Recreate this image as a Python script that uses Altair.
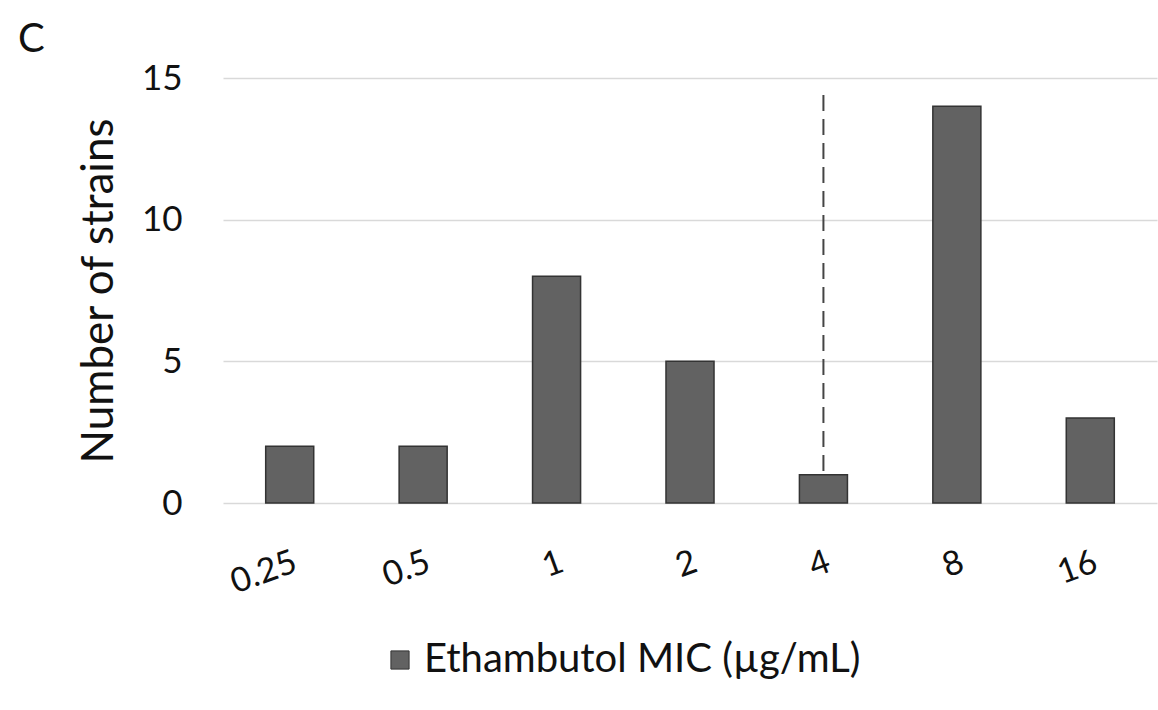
import altair as alt
import pandas as pd

# ---- data ----
mic_labels = ["0.25", "0.5", "1", "2", "4", "8", "16"]
strain_counts = [2, 2, 8, 5, 1, 14, 3]
series_name = "Ethambutol MIC (µg/mL)"
y_ticks = [0, 5, 10, 15]

breakpoint_mic = ["4"]
breakpoint_top = [14.4]
breakpoint_bottom = [1]

panel_label = ["C"]

FONT = "Lato"

bars_df = pd.DataFrame({"mic": mic_labels, "count": strain_counts,
                        "series": [series_name] * len(mic_labels)})
rule_df = pd.DataFrame({"mic": breakpoint_mic, "top": breakpoint_top,
                        "bottom": breakpoint_bottom})
label_df = pd.DataFrame({"t": panel_label})

y_scale = alt.Scale(domain=[0, 15], nice=False, zero=True)

x_enc = alt.X(
    "mic:N", sort=mic_labels,
    scale=alt.Scale(paddingInner=0.64, paddingOuter=0.32),
    axis=alt.Axis(title=None, labelAngle=340, labelAlign="right",
                  labelBaseline="top", labelPadding=42, ticks=False,
                  domain=False, labelFontSize=34, labelFont=FONT,
                  labelColor="#111"),
)

bars = alt.Chart(bars_df).mark_bar(stroke="#333333", strokeWidth=1.5).encode(
    x=x_enc,
    y=alt.Y("count:Q", scale=y_scale,
            axis=alt.Axis(values=y_ticks, title="Number of strains",
                          grid=True, gridColor="#d9d9d9", gridWidth=1.5,
                          ticks=False, domain=False, labelPadding=41,
                          labelFontSize=35, labelFont=FONT, labelColor="#111",
                          titleFont=FONT, titleFontSize=44,
                          titleFontWeight="normal", titleColor="#111",
                          titlePadding=20)),
    color=alt.Color("series:N", scale=alt.Scale(range=["#626262"]),
                    legend=alt.Legend(title=None, orient="none",
                                      legendX=157, legendY=562,
                                      labelFontSize=40, labelFont=FONT,
                                      labelColor="#111", labelLimit=800,
                                      symbolType="square", symbolSize=330,
                                      symbolStrokeColor="#333",
                                      symbolStrokeWidth=1)),
)

rule = alt.Chart(rule_df).mark_rule(strokeDash=[16, 8], color="#444444",
                                    strokeWidth=2).encode(
    x=alt.X("mic:N", sort=mic_labels),
    y=alt.Y("top:Q", scale=y_scale),
    y2="bottom:Q",
)

letter = alt.Chart(label_df).mark_text(align="left", baseline="top",
                                       fontSize=40, font=FONT,
                                       color="#111").encode(
    x=alt.value(-205), y=alt.value(-58), text="t:N")

chart = alt.layer(bars, rule, letter).properties(
    width=934, height=425,
    autosize=alt.AutoSizeParams(type="none"),
    padding={"left": 223, "top": 78, "right": 1, "bottom": 207},
    background="white",
).configure_view(stroke=None)

chart.save("out.html", embed_options={"renderer": "svg", "actions": False})
